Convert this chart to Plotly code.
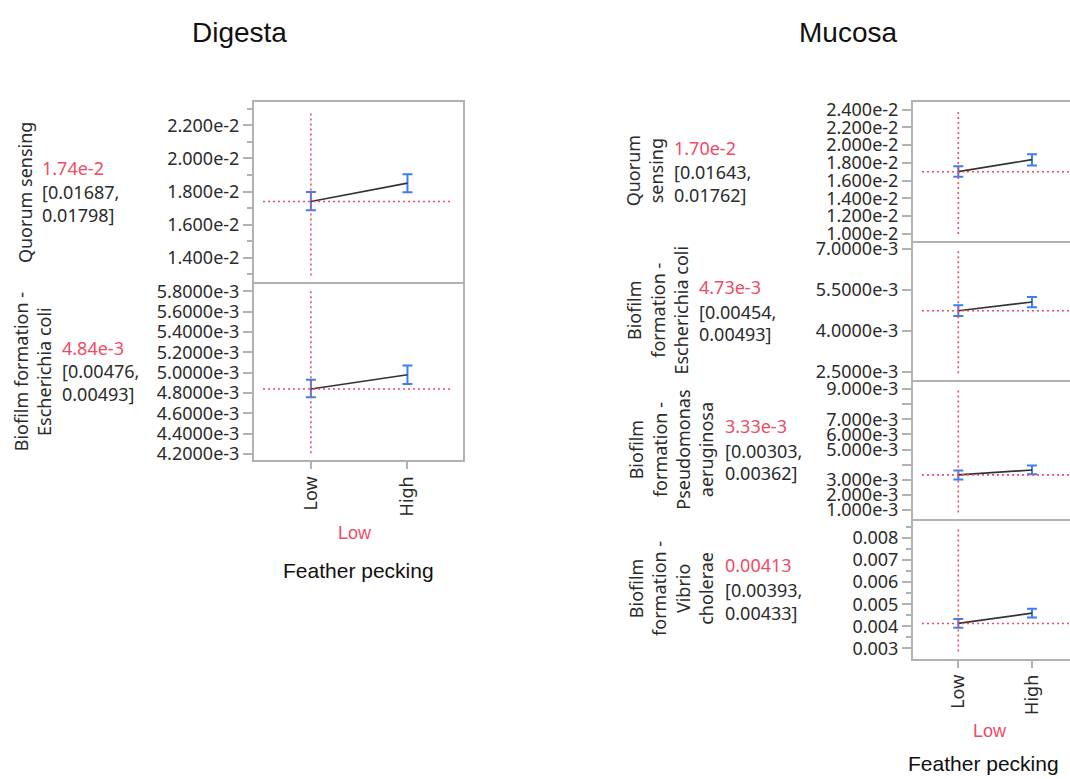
import plotly.graph_objects as go

# ---------------- data ----------------
levels = ["Low", "High"]
current_level = "Low"

# Digesta
dig_qs_mean = [0.0174, 0.01851]
dig_qs_lo = [0.01687, 0.01796]
dig_qs_hi = [0.01798, 0.01905]
dig_ec_mean = [0.00484, 0.00498]
dig_ec_lo = [0.00476, 0.00489]
dig_ec_hi = [0.00493, 0.00507]

# Mucosa
muc_qs_mean = [0.0170, 0.01836]
muc_qs_lo = [0.01643, 0.01770]
muc_qs_hi = [0.01762, 0.01896]
muc_ec_mean = [0.00473, 0.00505]
muc_ec_lo = [0.00454, 0.00486]
muc_ec_hi = [0.00493, 0.00523]
muc_pa_mean = [0.00333, 0.00365]
muc_pa_lo = [0.00303, 0.00337]
muc_pa_hi = [0.00362, 0.00394]
muc_vc_mean = [0.00413, 0.0046]
muc_vc_lo = [0.00393, 0.0044]
muc_vc_hi = [0.00433, 0.00479]

dig_row_labels = ["Quorum sensing", "Biofilm formation -<br>Escherichia coli"]
muc_row_labels = ["Quorum<br>sensing",
                  "Biofilm<br>formation -<br>Escherichia coli",
                  "Biofilm<br>formation -<br>Pseudomonas<br>aeruginosa",
                  "Biofilm<br>formation -<br>Vibrio<br>cholerae"]
dig_value_text = ["1.74e-2", "4.84e-3"]
dig_ci_text = [["[0.01687,", "0.01798]"], ["[0.00476,", "0.00493]"]]
muc_value_text = ["1.70e-2", "4.73e-3", "3.33e-3", "0.00413"]
muc_ci_text = [["[0.01643,", "0.01762]"], ["[0.00454,", "0.00493]"],
               ["[0.00303,", "0.00362]"], ["[0.00393,", "0.00433]"]]

# tick values / labels
dig_qs_ticks = [0.014, 0.016, 0.018, 0.020, 0.022]
dig_qs_ticklabels = ["1.400e-2", "1.600e-2", "1.800e-2", "2.000e-2", "2.200e-2"]
dig_qs_minor = [0.013, 0.015, 0.017, 0.019, 0.021, 0.023]
dig_ec_ticks = [0.0042, 0.0044, 0.0046, 0.0048, 0.0050, 0.0052, 0.0054, 0.0056, 0.0058]
dig_ec_ticklabels = ["4.2000e-3", "4.4000e-3", "4.6000e-3", "4.8000e-3", "5.0000e-3",
                     "5.2000e-3", "5.4000e-3", "5.6000e-3", "5.8000e-3"]
muc_qs_ticks = [0.010, 0.012, 0.014, 0.016, 0.018, 0.020, 0.022, 0.024]
muc_qs_ticklabels = ["1.000e-2", "1.200e-2", "1.400e-2", "1.600e-2", "1.800e-2",
                     "2.000e-2", "2.200e-2", "2.400e-2"]
muc_ec_ticks = [0.0025, 0.0040, 0.0055, 0.0070]
muc_ec_ticklabels = ["2.5000e-3", "4.0000e-3", "5.5000e-3", "7.0000e-3"]
muc_pa_ticks = [0.001, 0.002, 0.003, 0.004, 0.005, 0.006, 0.007, 0.008, 0.009]
muc_pa_ticklabels = ["1.000e-3", "2.000e-3", "3.000e-3", "", "5.000e-3",
                     "6.000e-3", "7.000e-3", "", "9.000e-3"]
muc_vc_ticks = [0.003, 0.004, 0.005, 0.006, 0.007, 0.008]
muc_vc_ticklabels = ["0.003", "0.004", "0.005", "0.006", "0.007", "0.008"]
muc_vc_minor = [0.0035, 0.0045, 0.0055, 0.0065, 0.0075, 0.0085]

dig_y_ranges = [[0.01251, 0.02343], [0.004142, 0.005887]]
muc_y_ranges = [[0.00919, 0.02489], [0.0022, 0.007277], [0.000394, 0.009587], [0.00254, 0.00885]]

# ---------------- style / geometry ----------------
W, H = 1070, 779
RED = "#ef4b66"
BLUE = "#3d7ef0"
GRAY = "#b2b2b2"
TXT = "#2b2b2b"
TICKFONT = dict(family="Noto Sans", size=18, color=TXT)


def fx(p):
    return p / W


def fy(p):
    return 1 - p / H


dig_x = (254, 463)
dig_rows = [(98, 281), (281, 461)]
muc_x = (913, 1070)
muc_rows = [(98, 239), (239, 380), (380, 521), (521, 662)]
dig_xrange = [-0.589, 1.575]
muc_xrange = [-0.615, 1.516]

fig = go.Figure()
layout = dict(width=W, height=H, margin=dict(l=0, r=0, t=0, b=0),
              plot_bgcolor="white", paper_bgcolor="white", showlegend=False)
shapes = []
annotations = []

panels = [
    # (means, lo, hi, xgeom, row, xrange, yrange, ticks, ticklabels, minor, top, bottom, mirror_y)
    (dig_qs_mean, dig_qs_lo, dig_qs_hi, dig_x, dig_rows[0], dig_xrange, dig_y_ranges[0],
     dig_qs_ticks, dig_qs_ticklabels, dig_qs_minor, True, False, True),
    (dig_ec_mean, dig_ec_lo, dig_ec_hi, dig_x, dig_rows[1], dig_xrange, dig_y_ranges[1],
     dig_ec_ticks, dig_ec_ticklabels, None, False, True, True),
    (muc_qs_mean, muc_qs_lo, muc_qs_hi, muc_x, muc_rows[0], muc_xrange, muc_y_ranges[0],
     muc_qs_ticks, muc_qs_ticklabels, None, True, False, False),
    (muc_ec_mean, muc_ec_lo, muc_ec_hi, muc_x, muc_rows[1], muc_xrange, muc_y_ranges[1],
     muc_ec_ticks, muc_ec_ticklabels, None, False, False, False),
    (muc_pa_mean, muc_pa_lo, muc_pa_hi, muc_x, muc_rows[2], muc_xrange, muc_y_ranges[2],
     muc_pa_ticks, muc_pa_ticklabels, None, False, False, False),
    (muc_vc_mean, muc_vc_lo, muc_vc_hi, muc_x, muc_rows[3], muc_xrange, muc_y_ranges[3],
     muc_vc_ticks, muc_vc_ticklabels, muc_vc_minor, False, True, False),
]

for i, (mean, lo, hi, xg, row, xr, yr, tv, tt, minor, top, bottom, mirror_y) in enumerate(panels, start=1):
    xa = "x" if i == 1 else f"x{i}"
    ya = "y" if i == 1 else f"y{i}"
    cur = levels.index(current_level)
    fig.add_trace(go.Scatter(
        x=levels, y=mean, xaxis=xa, yaxis=ya, mode="lines",
        line=dict(color="#333333", width=1.7),
        error_y=dict(type="data", symmetric=False,
                     array=[h - m for h, m in zip(hi, mean)],
                     arrayminus=[m - l for m, l in zip(mean, lo)],
                     color=BLUE, thickness=2, width=5),
        hoverinfo="skip"))
    xkey = "xaxis" if i == 1 else f"xaxis{i}"
    ykey = "yaxis" if i == 1 else f"yaxis{i}"
    xdict = dict(domain=[fx(xg[0]), fx(xg[1])], anchor=ya, type="category",
                 categoryorder="array", categoryarray=levels, range=xr,
                 showgrid=False, zeroline=False, showline=True, mirror=top,
                 linecolor=GRAY, linewidth=2, fixedrange=True)
    if bottom:
        xdict.update(ticks="outside", ticklen=7, tickcolor=GRAY, tickwidth=1.5,
                     tickangle=-90, showticklabels=True,
                     tickfont=dict(family="Noto Sans", size=18, color=TXT))
    else:
        xdict.update(ticks="", showticklabels=False)
    ydict = dict(domain=[fy(row[1]), fy(row[0])], anchor=xa, range=yr,
                 tickmode="array", tickvals=tv, ticktext=tt,
                 ticks="outside", ticklen=9, tickcolor=GRAY, tickwidth=1.5,
                 tickfont=TICKFONT, showgrid=False, zeroline=False,
                 showline=True, mirror=mirror_y, linecolor=GRAY, linewidth=2,
                 fixedrange=True)
    if minor:
        ydict["minor"] = dict(tickmode="array", tickvals=minor, ticks="outside",
                              ticklen=5, tickcolor=GRAY, tickwidth=1.5, showgrid=False)
    layout[xkey] = xdict
    layout[ykey] = ydict

    # crosshairs at current setting
    pw = xg[1] - xg[0]
    ph = row[1] - row[0]
    shapes.append(dict(type="line", xref=f"{xa} domain", yref=ya,
                       x0=9 / pw, x1=(1 - 10 / pw) if mirror_y else 1.0,
                       y0=mean[cur], y1=mean[cur],
                       line=dict(color=RED, width=1.6, dash="2px,3px")))
    shapes.append(dict(type="line", xref=xa, yref=f"{ya} domain",
                       x0=cur, x1=cur, y0=7 / ph, y1=1 - 9 / ph,
                       line=dict(color=RED, width=1.6, dash="2px,3px")))

# ---------------- text ----------------
def add_text(text, x, y, size=18, color=TXT, angle=0, xanchor="center", family="Noto Sans", align="center"):
    annotations.append(dict(text=text, x=fx(x), y=fy(y), xref="paper", yref="paper",
                            showarrow=False, textangle=angle, xanchor=xanchor,
                            yanchor="middle", align=align,
                            font=dict(family=family, size=size, color=color)))

add_text("Digesta", 239, 28, size=28, color="#111111", family="Liberation Sans")
add_text("Mucosa", 848, 28, size=28, color="#111111", family="Liberation Sans")

# Digesta row labels
dig_label_x = [25, 32]
dig_num_x = [40, 60]
for k, row in enumerate(dig_rows):
    cy = (row[0] + row[1]) / 2
    add_text(dig_row_labels[k], dig_label_x[k], cy, angle=-90)
    add_text(dig_value_text[k], dig_num_x[k], cy - 24, color=RED, xanchor="left")
    add_text(dig_ci_text[k][0], dig_num_x[k], cy, xanchor="left")
    add_text(dig_ci_text[k][1], dig_num_x[k], cy + 23, xanchor="left")

muc_label_x = [644, 658, 671, 671]
muc_num_x = [672, 697, 723, 723]
for k, row in enumerate(muc_rows):
    cy = (row[0] + row[1]) / 2
    add_text(muc_row_labels[k], muc_label_x[k], cy, angle=-90)
    add_text(muc_value_text[k], muc_num_x[k], cy - 24, color=RED, xanchor="left")
    add_text(muc_ci_text[k][0], muc_num_x[k], cy + 1, xanchor="left")
    add_text(muc_ci_text[k][1], muc_num_x[k], cy + 24, xanchor="left")

# factor labels
add_text(current_level, 355, 535, size=18, color=RED, family="Liberation Sans")
add_text("Feather pecking", 358, 573, size=21, color="#111111", family="Liberation Sans")
add_text(current_level, 990, 735, size=18, color=RED, family="Liberation Sans")
add_text("Feather pecking", 983, 768, size=21, color="#111111", family="Liberation Sans")

layout["shapes"] = shapes
layout["annotations"] = annotations
fig.update_layout(**layout)
fig.write_html("out.html", config={"displayModeBar": False},
               post_script="document.body.style.margin='0px';")
